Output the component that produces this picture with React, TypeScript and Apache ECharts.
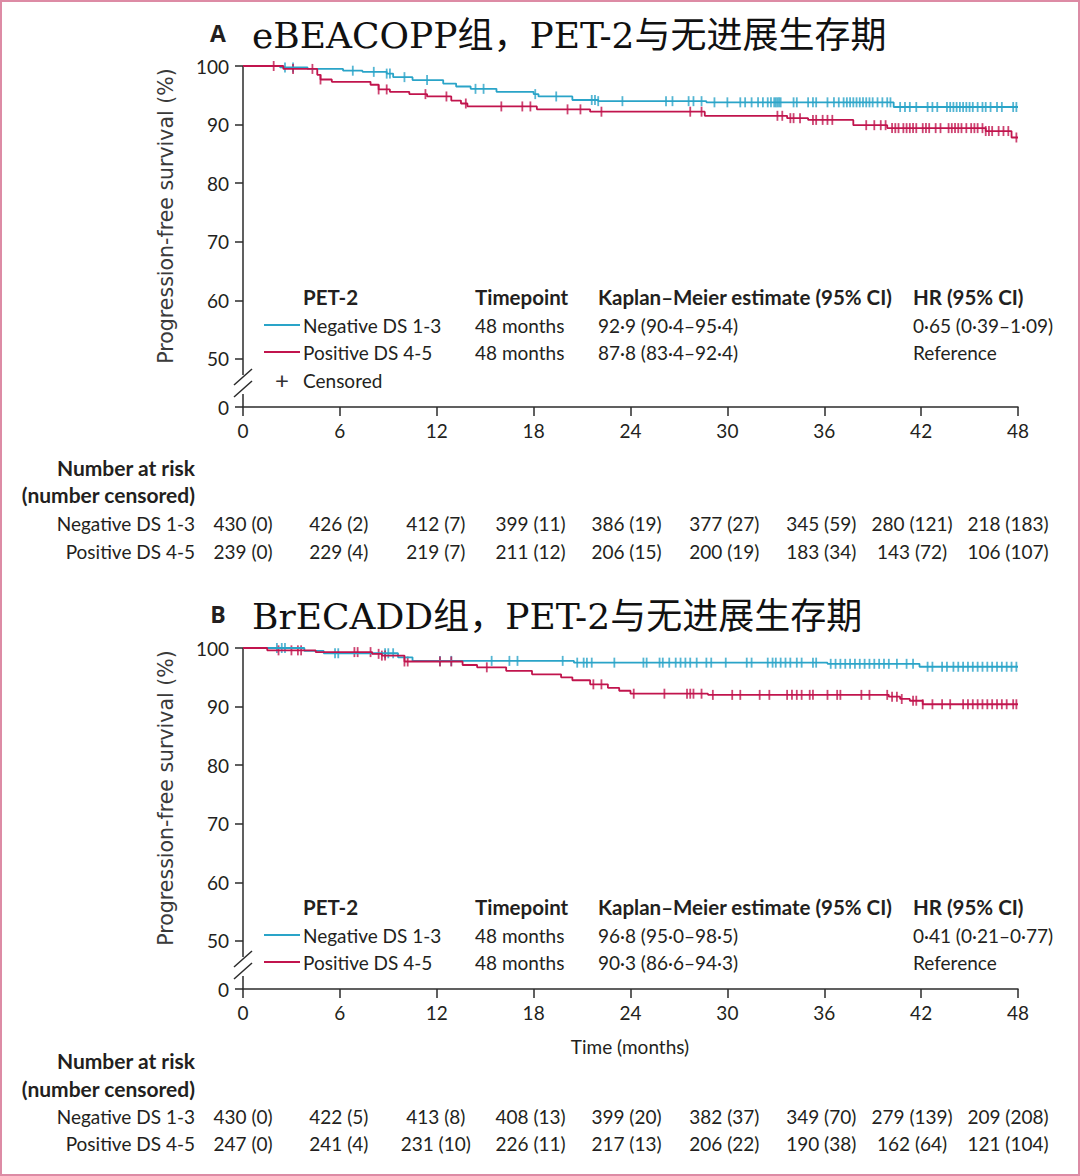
import React, { useEffect, useRef } from 'react';
import * as echarts from 'echarts';

// ---------- colours & fonts ----------
const BLUE = '#2aa4c8';
const RED = '#c1144d';
const INK = '#231f20';
const AXIS = '#2b2b2b';
const FONT = 'Lato, "Noto Sans", sans-serif';
const TITLE_FONT = '"DejaVu Serif", "Noto Sans CJK SC", serif';

// ---------- shared data ----------
const months = [0, 6, 12, 18, 24, 30, 36, 42, 48];
const yTickValues = [0, 50, 60, 70, 80, 90, 100];
const Y_ZERO_POS = 41.8; // axis position where the broken axis shows "0"
const groupLabels = ['Negative DS 1-3', 'Positive DS 4-5'];
const panelLetters = ['A', 'B'];
const panelTitles = ['eBEACOPP组，PET-2与无进展生存期', 'BrECADD组，PET-2与无进展生存期'];
const legendHeaders = ['PET-2', 'Timepoint', 'Kaplan–Meier estimate (95% CI)', 'HR (95% CI)'];
const timepointText = '48 months';
const kmEstimatesA = ['92·9 (90·4–95·4)', '87·8 (83·4–92·4)'];
const kmEstimatesB = ['96·8 (95·0–98·5)', '90·3 (86·6–94·3)'];
const hrA = ['0·65 (0·39–1·09)', 'Reference'];
const hrB = ['0·41 (0·21–0·77)', 'Reference'];
const yAxisTitle = 'Progression-free survival (%)';
const xAxisTitle = 'Time (months)';

// ---------- Panel A (eBEACOPP) ----------
const aNegEventT = [2.3, 4.0, 6.2, 7.4, 8.9, 9.3, 10.5, 12.4, 13.2, 14.1, 15.7, 18.0, 18.3, 20.4, 22.0, 28.7, 40.3];
const aNegEventV = [99.75, 99.5, 99.2, 99.0, 98.7, 98.1, 97.6, 97.0, 96.5, 96.1, 95.6, 95.2, 94.8, 94.2, 94.0, 93.8, 93.0];
const aNegCensor = [2.6, 3.1, 6.8, 8.1, 8.9, 9.1, 10.0, 11.4, 14.4, 14.9, 18.1, 19.4, 21.6, 21.8, 22.0, 23.5, 26.2, 26.6,
  27.6, 27.9, 28.4, 29.2, 30.0, 30.8, 31.1, 31.5, 31.9, 32.2, 32.5, 32.7, 32.9, 33.0, 33.1, 33.2, 33.3, 34.1, 34.3, 35.0,
  35.3, 35.5, 36.2, 36.6, 36.9, 37.2, 37.4, 37.6, 37.8, 38.0, 38.2, 38.4, 38.6, 38.8, 39.0, 39.3, 39.6, 39.9, 40.1, 40.7,
  41.0, 41.3, 41.7, 42.4, 42.7, 43.0, 43.6, 43.8, 44.0, 44.2, 44.4, 44.6, 44.8, 45.0, 45.2, 45.5, 45.8, 46.0, 46.3, 46.7,
  47.0, 47.7, 47.9];
const aPosEventT = [2.5, 4.6, 4.8, 5.5, 7.9, 8.4, 9.1, 10.3, 11.4, 12.9, 13.5, 13.9, 18.2, 21.5, 28.6, 33.7, 35.0, 37.8, 39.9, 46.0, 47.6];
const aPosEventV = [99.5, 98.5, 97.7, 97.3, 96.8, 96.0, 95.6, 95.2, 94.8, 94.1, 93.6, 93.1, 92.6, 92.2, 91.5, 91.1, 90.8, 89.9, 89.4, 88.9, 87.8];
const aPosCensor = [1.9, 3.1, 4.3, 4.8, 8.4, 8.9, 11.3, 12.6, 13.8, 16.0, 17.3, 17.8, 20.1, 20.9, 22.2, 27.7, 28.4, 33.1,
  33.4, 33.9, 34.1, 34.5, 35.3, 35.5, 35.9, 36.2, 36.5, 38.6, 39.1, 39.5, 39.8, 40.2, 40.4, 40.6, 40.9, 41.1, 41.3, 41.5,
  41.7, 42.1, 42.3, 42.5, 42.9, 43.2, 43.7, 43.9, 44.1, 44.3, 44.5, 44.8, 45.1, 45.3, 45.5, 45.8, 46.0, 46.2, 46.4, 46.8,
  47.1, 47.4, 47.9];
const aNegAtRisk = [430, 426, 412, 399, 386, 377, 345, 280, 218];
const aNegCensored = [0, 2, 7, 11, 19, 27, 59, 121, 183];
const aPosAtRisk = [239, 229, 219, 211, 206, 200, 183, 143, 106];
const aPosCensored = [0, 4, 7, 12, 15, 19, 34, 72, 107];

// ---------- Panel B (BrECADD) ----------
const bNegEventT = [3.8, 5.0, 9.6, 10.5, 20.5, 36.2, 41.9];
const bNegEventV = [99.5, 99.1, 98.4, 97.8, 97.5, 97.3, 96.8];
const bNegCensor = [2.1, 2.4, 2.6, 5.7, 5.9, 8.8, 9.0, 9.3, 12.2, 12.9, 15.4, 16.5, 17.0, 19.8, 20.7, 21.1, 21.3, 21.6, 23.0,
  24.8, 25.0, 25.8, 26.0, 26.4, 26.8, 27.1, 27.4, 27.7, 28.1, 28.7, 29.0, 29.9, 31.2, 31.5, 32.5, 32.8, 33.0, 33.3, 33.6,
  33.9, 34.3, 34.6, 35.3, 35.5, 36.4, 36.7, 37.0, 37.3, 37.6, 37.9, 38.2, 38.5, 38.8, 39.1, 39.4, 39.7, 40.0, 40.5, 41.1,
  41.5, 42.4, 42.7, 43.3, 43.6, 44.0, 44.3, 44.6, 44.9, 45.2, 45.5, 45.8, 46.1, 46.4, 46.7, 47.0, 47.3, 47.6, 47.9];
const bPosEventT = [1.5, 4.5, 8.0, 8.6, 10.0, 13.6, 14.5, 16.3, 17.9, 19.7, 20.4, 21.5, 22.6, 23.3, 24.0, 28.8, 40.0, 40.7, 41.3, 42.1];
const bPosEventV = [99.6, 99.3, 99.0, 98.7, 97.7, 97.1, 96.7, 96.1, 95.5, 95.0, 94.5, 93.8, 93.2, 92.7, 92.2, 92.0, 91.7, 91.3, 91.0, 90.4];
const bPosCensor = [2.2, 3.0, 3.4, 3.6, 6.9, 7.1, 7.9, 8.4, 8.6, 8.8, 10.0, 10.2, 12.2, 12.9, 15.1, 21.7, 22.2, 24.2, 26.1,
  27.5, 27.7, 27.9, 28.4, 29.1, 30.3, 30.8, 32.0, 32.6, 33.7, 34.0, 34.3, 34.6, 35.1, 35.3, 36.2, 36.8, 37.0, 38.3, 38.8,
  39.9, 40.2, 40.5, 40.8, 41.5, 41.7, 42.1, 42.7, 43.3, 43.8, 44.6, 44.9, 45.2, 45.5, 45.8, 46.1, 46.4, 46.7, 47.0, 47.3,
  47.7, 47.9];
const bNegAtRisk = [430, 422, 413, 408, 399, 382, 349, 279, 209];
const bNegCensored = [0, 5, 8, 13, 20, 37, 70, 139, 208];
const bPosAtRisk = [247, 241, 231, 226, 217, 206, 190, 162, 121];
const bPosCensored = [0, 4, 10, 11, 13, 22, 38, 64, 104];

const CURVE_END = 48;

// ---------- layout (pixels) ----------
const GRID_LEFT = 243;
const GRID_W = 775;
const GRID_H = 341;
const GRID_TOPS = [66, 648];
const TITLE_Y = [35, 616];
const LEGEND_Y = [[297, 325, 352, 380], [907, 935, 962]];
const LEGEND_COLS = [303, 475, 598, 913];
const RISK_Y = [[467, 494, 523, 551], [1060, 1088, 1116, 1143]];
const RISK_LABEL_X = 195;
const RISK_NUDGE = [0, -1, -1, -3, -4, -3, -3, -9, -10];
const YNAME_POS = [[166, 216], [166, 798]];
const XNAME_POS = [630, 1046];

type Panel = {
  negT: number[]; negV: number[]; negC: number[];
  posT: number[]; posV: number[]; posC: number[];
  km: string[]; hr: string[];
  risk: number[][]; cens: number[][];
  censoredLegend: boolean; xName: boolean;
};

const panels: Panel[] = [
  { negT: aNegEventT, negV: aNegEventV, negC: aNegCensor, posT: aPosEventT, posV: aPosEventV, posC: aPosCensor,
    km: kmEstimatesA, hr: hrA, risk: [aNegAtRisk, aPosAtRisk], cens: [aNegCensored, aPosCensored], censoredLegend: true, xName: false },
  { negT: bNegEventT, negV: bNegEventV, negC: bNegCensor, posT: bPosEventT, posV: bPosEventV, posC: bPosCensor,
    km: kmEstimatesB, hr: hrB, risk: [bNegAtRisk, bPosAtRisk], cens: [bNegCensored, bPosCensored], censoredLegend: false, xName: true },
];

function survivalAt(ts: number[], vs: number[], t: number) {
  let v = 100;
  for (let i = 0; i < ts.length; i++) if (ts[i] <= t) v = vs[i];
  return v;
}
function curveData(ts: number[], vs: number[]) {
  const d: number[][] = [[0, 100]];
  ts.forEach((t, i) => d.push([t, vs[i]]));
  d.push([CURVE_END, vs[vs.length - 1]]);
  return d;
}

const yAxisPositions = yTickValues.map(v => (v === 0 ? Y_ZERO_POS : v));

function buildOption() {
  const grid = GRID_TOPS.map(top => ({ left: GRID_LEFT, top, width: GRID_W, height: GRID_H }));
  const xAxis = panels.map((_, i) => ({
    type: 'value', gridIndex: i, min: 0, max: 48, interval: 6,
    axisLine: { show: true, onZero: false, lineStyle: { color: AXIS, width: 1.5 } },
    axisTick: { show: true, length: 9, lineStyle: { color: AXIS, width: 1.5 } },
    axisLabel: { margin: 14, fontSize: 19, fontFamily: FONT, color: INK },
    splitLine: { show: false },
  }));
  const yAxis = panels.map((_, i) => ({
    type: 'value', gridIndex: i, min: Y_ZERO_POS, max: 100,
    axisLine: { show: false },
    axisTick: { show: true, length: 8, customValues: yAxisPositions, lineStyle: { color: AXIS, width: 1.5 } },
    axisLabel: {
      margin: 14, fontSize: 19, fontFamily: FONT, color: INK, customValues: yAxisPositions,
      formatter: (v: number) => (v < 50 ? '0' : String(Math.round(v))),
    },
    splitLine: { show: false },
  }));
  const series: any[] = [];
  panels.forEach((p, i) => {
    const groups = [
      { t: p.negT, v: p.negV, c: p.negC, color: BLUE, name: groupLabels[0] },
      { t: p.posT, v: p.posV, c: p.posC, color: RED, name: groupLabels[1] },
    ];
    groups.forEach(g => {
      series.push({
        type: 'line', name: g.name, xAxisIndex: i, yAxisIndex: i, step: 'end', symbol: 'none', silent: true,
        data: curveData(g.t, g.v), lineStyle: { color: g.color, width: 1.8 },
      });
      series.push({
        type: 'scatter', name: g.name + ' censored', xAxisIndex: i, yAxisIndex: i, silent: true,
        symbol: 'rect', symbolSize: [1.8, 10], itemStyle: { color: g.color },
        data: g.c.map(t => [t, survivalAt(g.t, g.v, t)]),
      });
    });
  });
  return { animation: false, backgroundColor: '#ffffff', grid, xAxis, yAxis, series };
}

function txt(x: number, y: number, text: string, opts: any = {}) {
  const align = opts.align || 'left';
  return {
    type: 'text', x, y, silent: true, rotation: opts.rotation || 0,
    style: {
      text, fill: opts.fill || INK,
      font: `${opts.weight || 'normal'} ${opts.size || 19}px ${opts.family || FONT}`,
      align, verticalAlign: 'middle', textAlign: align, textVerticalAlign: 'middle',
    },
  };
}

function buildGraphics(chart: any) {
  const els: any[] = [];
  panels.forEach((p, i) => {
    const px = (v: number[]) => chart.convertToPixel({ gridIndex: i }, v) as number[];
    const [x0, yTop] = px([0, 100]);
    const y50 = px([0, 50])[1];
    const yZero = px([0, Y_ZERO_POS])[1];
    const axisStyle = { stroke: AXIS, lineWidth: 1.5 };
    // broken y axis
    els.push({ type: 'line', silent: true, shape: { x1: x0, y1: yTop, x2: x0, y2: y50 + 16 }, style: axisStyle });
    els.push({ type: 'line', silent: true, shape: { x1: x0, y1: yZero - 13, x2: x0, y2: yZero }, style: axisStyle });
    els.push({ type: 'line', silent: true, shape: { x1: x0 - 9, y1: y50 + 26, x2: x0 + 9, y2: y50 + 10 }, style: axisStyle });
    els.push({ type: 'line', silent: true, shape: { x1: x0 - 9, y1: y50 + 38, x2: x0 + 9, y2: y50 + 22 }, style: axisStyle });

    // titles
    els.push(txt(218, TITLE_Y[i] - 2, panelLetters[i], { weight: 'bold', size: 23, align: 'center', family: '"Open Sans", Lato, sans-serif' }));
    els.push(txt(252, TITLE_Y[i], panelTitles[i], { size: 36, family: TITLE_FONT, fill: '#111' }));

    // y-axis name
    els.push(txt(YNAME_POS[i][0], YNAME_POS[i][1], yAxisTitle, { size: 20.5, align: 'center', rotation: Math.PI / 2, family: '"DejaVu Sans", "Noto Sans", sans-serif', fill: '#3a3a3a' }));

    // legend table
    const ly = LEGEND_Y[i];
    legendHeaders.forEach((h, k) => els.push(txt(LEGEND_COLS[k], ly[0], h, { weight: 'bold', size: 20.5 })));
    [BLUE, RED].forEach((c, g) => {
      els.push({ type: 'line', silent: true, shape: { x1: 264, y1: ly[g + 1], x2: 300, y2: ly[g + 1] }, style: { stroke: c, lineWidth: 1.8 } });
      els.push(txt(LEGEND_COLS[0], ly[g + 1], groupLabels[g]));
      els.push(txt(LEGEND_COLS[1], ly[g + 1], timepointText));
      els.push(txt(LEGEND_COLS[2], ly[g + 1], p.km[g]));
      els.push(txt(LEGEND_COLS[3], ly[g + 1], p.hr[g]));
    });
    if (p.censoredLegend) {
      els.push(txt(282, ly[3] - 1, '+', { size: 24, align: 'center', fill: '#333' }));
      els.push(txt(LEGEND_COLS[0], ly[3], 'Censored'));
    }

    // x-axis name
    if (p.xName) els.push(txt(XNAME_POS[0], XNAME_POS[1], xAxisTitle, { align: 'center' }));

    // number at risk
    const ry = RISK_Y[i];
    els.push(txt(RISK_LABEL_X, ry[0], 'Number at risk', { weight: 'bold', size: 21, align: 'right' }));
    els.push(txt(RISK_LABEL_X, ry[1], '(number censored)', { weight: 'bold', size: 21, align: 'right' }));
    [0, 1].forEach(g => {
      els.push(txt(RISK_LABEL_X, ry[g + 2], groupLabels[g], { align: 'right' }));
      months.forEach((m, k) => {
        const cx = px([m, 100])[0] + RISK_NUDGE[k];
        els.push(txt(cx, ry[g + 2], `${p.risk[g][k]} (${p.cens[g][k]})`, { align: 'center' }));
      });
    });
  });
  return els;
}

export default function App() {
  const ref = useRef<HTMLDivElement>(null);
  useEffect(() => {
    document.body.style.margin = '0';
    const chart = echarts.init(ref.current as HTMLDivElement, null, { renderer: 'svg' });
    chart.setOption(buildOption());
    chart.setOption({ graphic: { elements: buildGraphics(chart) } });
    return () => chart.dispose();
  }, []);
  return (
    <div style={{ width: 1080, height: 1176, position: 'relative', background: '#fff' }}>
      <div ref={ref} style={{ position: 'absolute', left: 0, top: 0, width: 1080, height: 1176 }} />
      <div style={{ position: 'absolute', left: 0, top: 0, width: 1080, height: 1176, boxSizing: 'border-box', border: '2px solid #dd8ba5', pointerEvents: 'none' }} />
    </div>
  );
}
